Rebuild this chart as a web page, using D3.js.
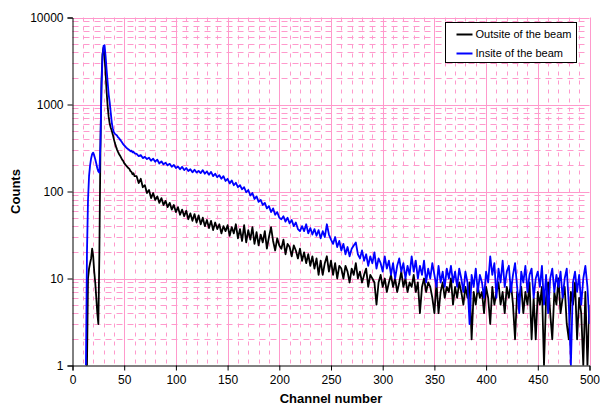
<!DOCTYPE html>
<html>
<head>
<meta charset="utf-8">
<script src="https://cdn.jsdelivr.net/npm/d3@7"></script>
<style>
  body { margin: 0; background: #fff; }
  svg { display: block; font-family: "Liberation Sans", Arial, sans-serif; }
</style>
</head>
<body>
<svg id="chart" width="600" height="405"></svg>
<script>
// Channel numbers: every channel up to 60, then every second channel
const channels = d3.range(13, 61).concat(d3.range(62, 501, 2));

// Counts outside of the beam (black)
const outsideBeam = [
  1,1,10,13,15,17,22,18,12,9,6,4,3,20,300,1800,3800,4500,3600,2300,
  1400,950,720,600,540,500,450,400,360,330,305,285,270,258,245,232,225,212,205,198,
  192,186,182,172,168,158,162,150,
  // 62 - 200
  150,125,140,112,118,96,104,84,96,80,
  88,74,84,70,78,66,74,62,70,58,
  66,54,62,52,60,48,56,46,55,44,
  53,42,50,40,47,38,46,36,44,37,
  42,33,40,35,41,31,39,33,42,29,
  37,27,41,26,36,28,39,25,34,24,
  32,26,35,22,30,39,27,21,29,24,
  // 202 - 300
  22,28,19,25,23,18,24,21,17,22,
  16,20,15,19,14,18,13,17,11,16,
  11,15,18,12,16,11,15,10,14,13,
  10,14,12,9,13,11,15,10,12,9,
  11,13,8,11,10,9,5,9,11,8,
  // 302 - 400
  10,7,9,11,8,10,7,9,12,8,
  10,7,9,8,11,7,9,4,8,10,
  7,9,8,6,4,9,4,7,9,6,
  8,7,10,5,8,6,9,7,5,8,
  6,9,2,7,5,8,6,7,4,8,
  // 402 - 500
  6,3,8,5,7,9,5,7,4,8,
  6,9,5,2,7,6,8,4,7,5,
  9,2,6,2,7,5,8,1,6,9,
  4,2,7,5,10,4,6,8,3,2,
  7,5,9,2,6,4,1,7,1,5
];

// Counts inside of the beam (blue)
const insideBeam = [
  1,20,80,150,200,240,270,280,260,235,210,185,170,165,350,1500,3500,4700,4800,3600,
  2500,1800,1300,1050,800,620,530,480,460,450,440,420,410,395,380,365,350,340,330,320,
  312,305,300,290,295,282,286,275,
  // 62 - 200
  270,255,262,242,250,236,245,226,238,220,
  232,210,222,205,214,200,208,192,202,186,
  194,180,192,176,186,172,180,166,178,165,
  172,163,176,160,170,156,168,150,160,146,
  154,140,150,132,140,124,134,118,126,112,
  118,106,112,98,104,90,96,82,88,76,
  80,70,74,64,68,58,64,54,58,50,
  // 202 - 300
  48,52,45,50,43,47,40,44,37,35,
  40,35,42,33,38,32,37,31,36,29,
  35,30,42,32,28,25,30,23,27,21,
  25,19,23,18,22,24,26,19,17,21,
  16,19,14,18,15,20,13,17,15,12,
  // 302 - 400
  18,13,16,11,15,10,14,17,12,15,
  10,14,11,18,12,16,10,14,11,16,
  9,13,10,15,11,8,14,9,12,8,
  13,10,14,9,12,8,13,10,7,12,
  9,3,11,8,13,7,11,9,6,12,
  // 402 - 500
  9,18,11,15,6,13,9,16,8,12,
  14,7,11,15,8,4,12,9,14,7,
  11,13,6,10,12,8,14,5,11,4,
  10,13,7,11,8,12,6,10,13,5,
  1,9,12,7,11,5,10,14,8,3
];

const seriesNames = ["Outsite of the beam", "Insite of the beam"];
const seriesColors = ["#000000", "#0000ff"];
const xTicks = d3.range(0, 501, 50);
const yTicks = [1, 10, 100, 1000, 10000];

// plot box
const plotLeft = 72.5, plotRight = 589.5, plotTop = 17.5, plotBottom = 365.5;

const svg = d3.select("#chart");
const x = d3.scaleLinear().domain([0, 500]).range([plotLeft, plotRight]);
const y = d3.scaleLog().domain([1, 10000]).range([plotBottom, plotTop]);
const px = v => Math.round(x(v)) + 0.5;
const py = v => Math.round(y(v)) + 0.5;

const pink = "#ff99cc";
const grid = svg.append("g");

// minor grid, dashed
const minorX = d3.range(10, 500, 10).filter(d => d % 50 !== 0);
grid.selectAll(".mx").data(minorX).join("line")
    .attr("x1", px).attr("x2", px)
    .attr("y1", plotTop).attr("y2", plotBottom)
    .attr("stroke", pink).attr("stroke-dasharray", "4,5");

const minorY = [];
[1, 10, 100, 1000].forEach(d => { for (let k = 2; k <= 9; k++) minorY.push(d * k); });
grid.selectAll(".my").data(minorY).join("line")
    .attr("x1", plotLeft).attr("x2", plotRight)
    .attr("y1", py).attr("y2", py)
    .attr("stroke", pink).attr("stroke-dasharray", "6,5");

// major grid
grid.selectAll(".gx").data(xTicks.slice(1)).join("line")
    .attr("x1", px).attr("x2", px)
    .attr("y1", plotTop).attr("y2", plotBottom)
    .attr("stroke", pink);
grid.selectAll(".gy").data(yTicks.slice(1)).join("line")
    .attr("x1", plotLeft).attr("x2", plotRight)
    .attr("y1", py).attr("y2", py)
    .attr("stroke", pink);

// series
const line = d3.line()
    .x((d, i) => x(channels[i]))
    .y(d => y(Math.max(d, 1)));

svg.append("defs").append("clipPath").attr("id", "clip")
  .append("rect").attr("x", plotLeft).attr("y", plotTop)
  .attr("width", plotRight - plotLeft).attr("height", plotBottom - plotTop);

const gLines = svg.append("g").attr("clip-path", "url(#clip)");
[outsideBeam, insideBeam].forEach((vals, k) => {
  gLines.append("path")
    .datum(vals)
    .attr("d", line)
    .attr("fill", "none")
    .attr("stroke", seriesColors[k])
    .attr("stroke-width", 1.8)
    .attr("stroke-linejoin", "round");
});

// axes
const xAxis = svg.append("g")
    .attr("transform", `translate(0,${plotBottom})`)
    .call(d3.axisBottom(x).tickValues(xTicks).tickSize(5).tickPadding(5).tickFormat(d3.format("d")));
const yAxis = svg.append("g")
    .attr("transform", `translate(${plotLeft},0)`)
    .call(d3.axisLeft(y).tickValues(yTicks).tickSize(5).tickPadding(4).tickFormat(d3.format("d")));
[xAxis, yAxis].forEach(g => {
  g.select(".domain").attr("stroke", "#000");
  g.selectAll("line").attr("stroke", "#000");
  g.selectAll("text").attr("fill", "#000")
    .style("font-family", "'Liberation Sans', Arial, sans-serif")
    .style("font-size", "12px");
});

// axis titles
svg.append("text")
    .attr("x", (plotLeft + plotRight) / 2).attr("y", 403)
    .attr("text-anchor", "middle")
    .style("font-size", "13px").style("font-weight", "bold")
    .text("Channel number");
svg.append("text")
    .attr("transform", `translate(20,${(plotTop + plotBottom) / 2}) rotate(-90)`)
    .attr("text-anchor", "middle")
    .style("font-size", "13px").style("font-weight", "bold")
    .text("Counts");

// legend
const legend = svg.append("g").attr("transform", "translate(445.5,22.5)");
legend.append("rect")
    .attr("width", 131).attr("height", 40)
    .attr("fill", "#fff").attr("stroke", "#000");
seriesNames.forEach((name, i) => {
  const yy = 12 + i * 19;
  legend.append("line")
      .attr("x1", 11).attr("x2", 27).attr("y1", yy).attr("y2", yy)
      .attr("stroke", seriesColors[i]).attr("stroke-width", 2);
  legend.append("text")
      .attr("x", 30).attr("y", yy).attr("dy", "0.35em")
      .style("font-size", "11px")
      .text(name);
});
</script>
</body>
</html>
